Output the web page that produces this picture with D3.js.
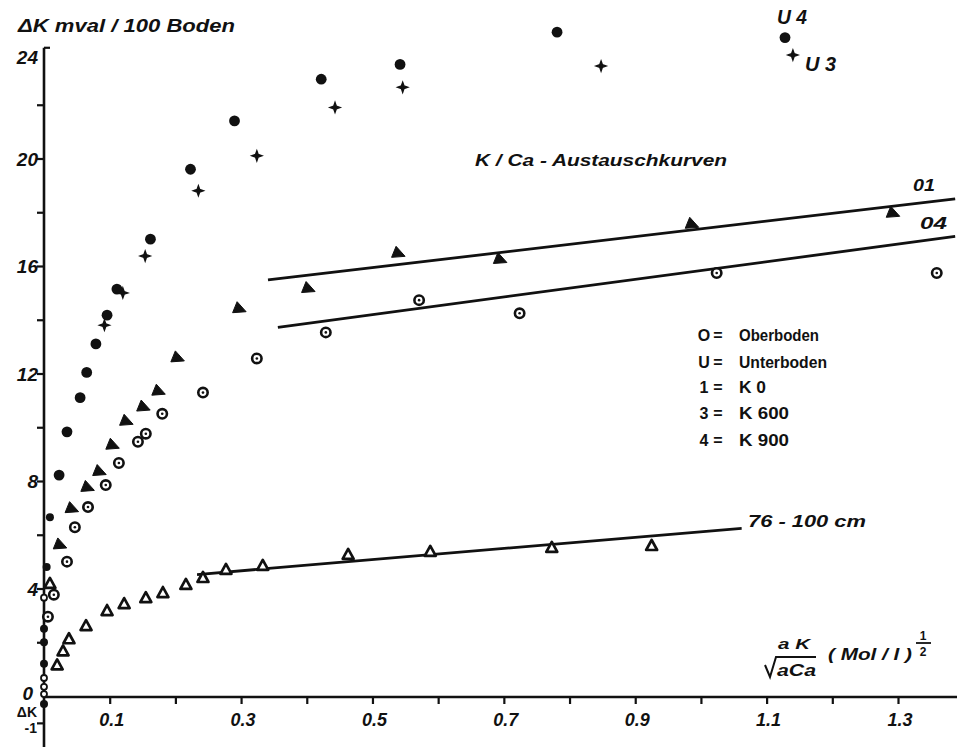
<!DOCTYPE html>
<html>
<head>
<meta charset="utf-8">
<script src="https://cdn.jsdelivr.net/npm/d3@7"></script>
<style>
  html, body { margin: 0; padding: 0; background: #fff; }
  svg { display: block; }
  text { font-family: "Liberation Sans", Arial, sans-serif; fill: #111; }
</style>
</head>
<body>
<svg id="chart" width="957" height="748"></svg>
<script>
// ---- data ----
// U4 : filled circles
const u4 = [[0.0,-0.3],[0.0,1.2],[0.0,2.0],[0.0,2.5],[0.004,4.8],[0.009,6.65],[0.023,8.22],[0.035,9.83],[0.055,11.1],[0.065,12.04],[0.079,13.1],[0.096,14.17],[0.111,15.14],[0.162,17.0],[0.223,19.6],[0.29,21.4],[0.422,22.95],[0.542,23.5],[0.781,24.7],[1.128,24.5]];
// U3 : crosses
const u3 = [[0.092,13.8],[0.12,15.0],[0.154,16.37],[0.235,18.8],[0.324,20.1],[0.443,21.9],[0.546,22.65],[0.848,23.44],[1.14,23.85]];
// O1 : filled triangles
const o1 = [[0.024,5.64],[0.042,6.99],[0.066,7.78],[0.084,8.37],[0.104,9.35],[0.125,10.24],[0.151,10.77],[0.174,11.36],[0.203,12.6],[0.297,14.43],[0.402,15.18],[0.539,16.49],[0.694,16.26],[0.986,17.57],[1.292,17.98]];
// O4 : circles with centre dot
const o4 = [[0.006,2.95],[0.015,3.77],[0.035,5.0],[0.047,6.28],[0.067,7.03],[0.094,7.85],[0.114,8.67],[0.143,9.46],[0.155,9.76],[0.18,10.5],[0.242,11.29],[0.324,12.56],[0.429,13.53],[0.571,14.73],[0.724,14.24],[1.024,15.74],[1.359,15.74]];
// 76 - 100 cm : open triangles
const sub = [[0.009,4.19],[0.02,1.16],[0.029,1.68],[0.038,2.13],[0.064,2.62],[0.096,3.18],[0.122,3.44],[0.155,3.66],[0.181,3.85],[0.216,4.15],[0.242,4.41],[0.277,4.71],[0.333,4.86],[0.463,5.27],[0.588,5.38],[0.773,5.53],[0.925,5.6]];
// small open circles on the y axis
const originOpen = [[0.0,0.07],[0.0,0.34],[0.0,0.67],[0.0,3.66]];
// straight fitted lines
const lineO1 = [[0.341,15.48],[1.387,18.5]];
const lineO4 = [[0.356,13.72],[1.387,17.1]];
const line76 = [[0.233,4.52],[1.062,6.24]];
// ticks
const xTicks = [0.1,0.2,0.3,0.4,0.5,0.6,0.7,0.8,0.9,1.0,1.1,1.2,1.3];
const xTickLabels = [[0.1,"0.1"],[0.3,"0.3"],[0.5,"0.5"],[0.7,"0.7"],[0.9,"0.9"],[1.1,"1.1"],[1.3,"1.3"]];
const yTicks = [-1,2,4,6,8,10,12,14,16,18,20,22];
const yTickLabels = [[0,"0"],[4,"4"],[8,"8"],[12,"12"],[16,"16"],[20,"20"],[24,"24"]];
const legendKeys = ["O","U","1","3","4"];
const legendVals = ["Oberboden","Unterboden","K 0","K 600","K 900"];

// ---- scales ----
const x = d3.scaleLinear().domain([0, 1.3]).range([44, 898]);
const y = d3.scaleLinear().domain([0, 24]).range([696, 51]);

const svg = d3.select("#chart");
svg.append("rect").attr("width",957).attr("height",748).attr("fill","#fff");

// ---- axes ----
const yAxis = d3.axisLeft(y).tickValues(yTicks).tickSize(7).tickFormat("");
const gy = svg.append("g").attr("transform","translate(44,0)").call(yAxis);
gy.select(".domain").remove();
gy.selectAll(".tick line").attr("stroke","#111").attr("stroke-width",2.2);
svg.append("line").attr("x1",44).attr("x2",44).attr("y1",y(24.12)).attr("y2",y(-1.9))
  .attr("stroke","#111").attr("stroke-width",2.6);
// hook at the top (24)
svg.append("line").attr("x1",44).attr("x2",50).attr("y1",y(24.12)).attr("y2",y(24.12))
  .attr("stroke","#111").attr("stroke-width",2.2);

const xAxis = d3.axisBottom(x).tickValues(xTicks).tickSize(7).tickFormat("");
const gx = svg.append("g").attr("transform",`translate(0,${y(0)+1})`).call(xAxis);
gx.select(".domain").remove();
gx.selectAll(".tick line").attr("stroke","#111").attr("stroke-width",2.2);
svg.append("line").attr("x1",x(0)).attr("x2",x(1.39)).attr("y1",y(0)+1).attr("y2",y(0)+1)
  .attr("stroke","#111").attr("stroke-width",2.6);

// tick labels
svg.append("g").selectAll("text").data(xTickLabels).join("text")
  .attr("x",d=>x(d[0])+2).attr("y",y(0)+30)
  .attr("text-anchor","middle").attr("font-size",19).attr("font-style","italic").attr("font-weight","bold")
  .attr("textLength",25).attr("lengthAdjust","spacingAndGlyphs")
  .text(d=>d[1]);
svg.append("g").selectAll("text").data(yTickLabels).join("text")
  .attr("x",d=> d[0]===0 ? 33 : 38).attr("y",d=>y(d[0])+ (d[0]===24 ? 13 : (d[0]===0 ? 4 : 7)))
  .attr("text-anchor","end").attr("font-size",19).attr("font-style","italic").attr("font-weight","bold")
  .text(d=>d[1]);
svg.append("text").attr("x",37).attr("y",717).attr("text-anchor","end")
  .attr("font-size",14).attr("font-weight","bold").text("ΔK");
svg.append("text").attr("x",37).attr("y",733).attr("text-anchor","end")
  .attr("font-size",14).attr("font-weight","bold").text("-1");

// ---- lines ----
const lg = d3.line().x(d=>x(d[0])).y(d=>y(d[1]));
[lineO1,lineO4,line76].forEach(L=>{
  svg.append("path").attr("d",lg(L)).attr("fill","none").attr("stroke","#111").attr("stroke-width",2.8);
});

// ---- markers ----
const mk = svg.append("g");
// filled circles U4
mk.selectAll(".u4").data(u4).join("circle")
  .attr("cx",d=>x(d[0])).attr("cy",d=>y(d[1])).attr("r",d=>d[1]<7?4:5.4).attr("fill","#111");
// crosses U3
const starPath = "M0,-5 L1.3,-1.3 L5,0 L1.3,1.3 L0,5 L-1.3,1.3 L-5,0 L-1.3,-1.3 Z";
mk.selectAll(".u3").data(u3).join("path")
  .attr("transform",d=>`translate(${x(d[0])},${y(d[1])})`).attr("d",starPath)
  .attr("fill","#111").attr("stroke","#111").attr("stroke-width",1.4);
// filled triangles O1
const triF = "M-2,-6.5 L7,3.5 L-6.5,4.5 Z";
mk.selectAll(".o1").data(o1).join("path")
  .attr("transform",d=>`translate(${x(d[0])},${y(d[1])})`).attr("d",triF)
  .attr("fill","#111").attr("stroke","#111").attr("stroke-width",1);
// ringed dots O4
mk.selectAll(".o4").data(o4).join("circle")
  .attr("cx",d=>x(d[0])).attr("cy",d=>y(d[1])).attr("r",4.7)
  .attr("fill","#fff").attr("stroke","#111").attr("stroke-width",2.6);
mk.selectAll(".o4d").data(o4).join("circle")
  .attr("cx",d=>x(d[0])).attr("cy",d=>y(d[1])).attr("r",1.3).attr("fill","#111");
// open triangles 76-100 cm
const triO = "M0,-5.5 L5.5,4.5 L-5.5,4.5 Z";
mk.selectAll(".sub").data(sub).join("path")
  .attr("transform",d=>`translate(${x(d[0])},${y(d[1])})`).attr("d",triO)
  .attr("fill","#fff").attr("stroke","#111").attr("stroke-width",2.7).attr("stroke-linejoin","round");
// small open circles on the axis
mk.selectAll(".oo").data(originOpen).join("circle")
  .attr("cx",d=>x(d[0])).attr("cy",d=>y(d[1])).attr("r",3)
  .attr("fill","#fff").attr("stroke","#111").attr("stroke-width",1.8);

// ---- texts ----
function t(txt, xx, yy, size, opts={}) {
  const e = svg.append("text").attr("x",xx).attr("y",yy).attr("font-size",size)
    .attr("font-style", opts.italic===false ? "normal" : "italic")
    .attr("font-weight", opts.bold===false ? "normal" : "bold").text(txt);
  if (opts.len) e.attr("textLength",opts.len).attr("lengthAdjust","spacingAndGlyphs");
  if (opts.anchor) e.attr("text-anchor",opts.anchor);
  return e;
}
t("ΔK  mval / 100 Boden", 18, 32, 19, {len:217});
t("K / Ca - Austauschkurven", 475, 166, 17, {len:252});
t("01", 913, 191, 17, {len:22});
t("04", 920, 229, 17, {len:27});
t("76 - 100 cm", 748, 527, 17, {len:118});
t("U 4", 777, 24, 21, {len:30});
t("U 3", 805, 71, 21, {len:31});

// legend
const legY = [335, 362, 387, 413, 440];
const legLen = [80, 88, 27, 50, 50];
svg.append("g").selectAll("text").data(legendKeys).join("text")
  .attr("x",704).attr("y",(d,i)=>legY[i]+6).attr("font-size",16).attr("font-weight","bold")
  .attr("text-anchor","middle").text(d=>d);
svg.append("g").selectAll("text").data(legendKeys).join("text")
  .attr("x",718).attr("y",(d,i)=>legY[i]+6).attr("font-size",16).attr("font-weight","bold")
  .attr("text-anchor","middle").text("=");
svg.append("g").selectAll("text").data(legendVals).join("text")
  .attr("x",739).attr("y",(d,i)=>legY[i]+6).attr("font-size",16).attr("font-weight","bold")
  .attr("textLength",(d,i)=>legLen[i]).attr("lengthAdjust","spacingAndGlyphs").text(d=>d);

// x-axis label: aK / sqrt(aCa) (Mol/l)^(1/2)
t("a K", 794, 649, 15, {anchor:"middle", len:32});
svg.append("path").attr("d","M765,665 L770,677 L776,657 L816,657")
  .attr("fill","none").attr("stroke","#111").attr("stroke-width",2);
t("aCa", 777, 676, 16, {len:39});
t("( Mol / l )", 828, 660, 16, {len:84});
t("1", 923, 640, 12, {italic:false, anchor:"middle"});
svg.append("line").attr("x1",916).attr("x2",931).attr("y1",643).attr("y2",643).attr("stroke","#111").attr("stroke-width",1.8);
t("2", 923, 656, 12, {italic:false, anchor:"middle"});
</script>
</body>
</html>
